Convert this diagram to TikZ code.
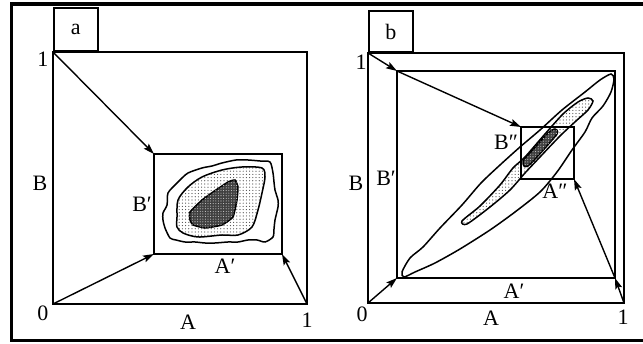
\documentclass[tikz,border=0pt]{standalone}
\usepackage{fontspec}
\setmainfont{Liberation Serif}
\usetikzlibrary{arrows.meta,patterns,patterns.meta}
\begin{document}
\begin{tikzpicture}[x=1pt,y=-1pt,
  ln/.style={line width=1.5pt,line join=miter},
  arr/.style={line width=1.4pt,-{Stealth[length=11pt,width=7pt,inset=2pt]}},
  lbl/.style={font=\fontsize{22}{24}\selectfont,inner sep=0pt},
  cont/.style={line width=1.5pt},
  dotfill/.style={pattern={Dots[distance=3.2pt,radius=0.6pt]},pattern color=black!70},
  darkfill/.style={fill=black!75},
  darkdots/.style={pattern={Dots[distance=2.6pt,radius=0.55pt]},pattern color=white!80!black}]
\useasboundingbox (0,0) rectangle (643,344);
\clip (0,0) rectangle (643,344);
\fill[white] (0,0) rectangle (643,344);
% outer frame
\draw[line width=3.8pt] (660,4) -- (11.5,4) -- (11.5,340.5) -- (660,340.5);

% ---------- panel a ----------
\coordinate (aBL) at (53,304);
\coordinate (aTL) at (53,52);
\coordinate (aBR) at (307,304);
\coordinate (aTR) at (307,52);
\coordinate (apBL) at (154,254);
\coordinate (apTL) at (154,154);
\coordinate (apBR) at (282,254);
\coordinate (apTR) at (282,154);
\draw[ln] (aBL) rectangle (aTR);
\draw[ln] (apBL) rectangle (apTR);
\node[draw,ln,minimum width=44pt,minimum height=43pt,inner sep=0pt,anchor=south west,lbl] (labA) at (53,52) {a};
% contours
\draw[cont] plot[smooth cycle,tension=0.45] coordinates {(167,205) (168,193) (176,184) (180,180) (188,173) (202,168) (212,166) (222,163) (236,160) (248,160) (260,161) (270,162) (273,173) (274,182) (275,190) (278,200) (278,207) (275,220) (274,229) (273,237) (265,242) (257,240) (248,240) (238,242) (228,242) (215,243) (205,243) (195,242) (185,242) (176,240) (170,238) (165,228) (163,220) (163,213)};
\draw[cont,dotfill] plot[smooth cycle,tension=0.5] coordinates {(177,217) (178,200) (188,187) (202,177) (222,170) (242,167) (262,168) (265,177) (262,193) (258,210) (252,227) (238,235) (222,235) (198,237) (183,233) (177,227)};
\draw[cont,darkfill] plot[smooth cycle,tension=0.25] coordinates {(190,212) (202,200) (213,192) (228,182) (235,180) (238,187) (237,200) (233,217) (222,225) (205,228) (193,225) (190,220)};
\fill[darkdots] plot[smooth cycle,tension=0.25] coordinates {(190,212) (202,200) (213,192) (228,182) (235,180) (238,187) (237,200) (233,217) (222,225) (205,228) (193,225) (190,220)};
% arrows
\draw[arr] (aTL) -- (apTL);
\draw[arr] (aBL) -- (apBL);
\draw[arr] (aBR) -- (apBR);
% labels
\node[lbl] (a1t) at (43,59) {1};
\node[lbl] (aB) at (40,183) {B};
\node[lbl] (aBp) at (142,204) {B′};
\node[lbl] (a0) at (43,313) {0};
\node[lbl] (aA) at (188,322) {A};
\node[lbl] (a1r) at (307,320) {1};
\node[lbl] (aAp) at (225,266) {A′};

% ---------- panel b ----------
\coordinate (bBL) at (368,303);
\coordinate (bTL) at (368,53);
\coordinate (bBR) at (624,303);
\coordinate (bTR) at (624,53);
\coordinate (bpBL) at (397,278);
\coordinate (bpTL) at (397,71);
\coordinate (bpBR) at (615,278);
\coordinate (bpTR) at (615,71);
\coordinate (bqBL) at (521,179);
\coordinate (bqTL) at (521,127);
\coordinate (bqBR) at (574,179);
\coordinate (bqTR) at (574,127);
\draw[ln] (bBL) rectangle (bTR);
\draw[ln] (bpBL) rectangle (bpTR);
\node[draw,ln,minimum width=44pt,minimum height=41pt,inner sep=0pt,anchor=south west,lbl] (labB) at (368,53) {b};
% contours
\draw[cont] plot[smooth cycle,tension=0.45] coordinates {(402,272) (410,258) (423,247) (440,228) (462,205) (481,183) (500,165) (520,147) (540,130) (562,110) (585,92) (600,80) (611,74) (614,79) (611,92) (603,106) (592,118) (585,132) (572,150) (557,172) (540,192) (515,212) (490,230) (460,249) (435,263) (415,272) (404,277)};
\draw[cont,dotfill] plot[smooth cycle,tension=0.45] coordinates {(462,221) (480,206) (500,185) (513,168) (525,157) (545,134) (563,114) (578,102) (588,98) (593,101) (588,110) (576,121) (560,136) (540,157) (525,173) (510,190) (490,207) (467,224)};
\draw[cont,darkfill] plot[smooth cycle,tension=0.4] coordinates {(523,161) (530,153) (548,133) (555,129) (557,134) (537,157) (528,166) (524,166)};
\fill[darkdots] plot[smooth cycle,tension=0.4] coordinates {(523,161) (530,153) (548,133) (555,129) (557,134) (537,157) (528,166) (524,166)};
\draw[ln] (bqBL) rectangle (bqTR);
% arrows
\draw[arr] (bTL) -- (bpTL);
\draw[arr] (bpTL) -- (bqTL);
\draw[arr] (bBL) -- (bpBL);
\draw[arr] (bBR) -- (bpBR);
\draw[arr] (bpBR) -- (bqBR);
% labels
\node[lbl] (b1t) at (361,62) {1};
\node[lbl] (bB) at (356,183) {B};
\node[lbl] (bBp) at (386,178) {B′};
\node[lbl] (bBpp) at (506,142) {B″};
\node[lbl] (bApp) at (555,191) {A″};
\node[lbl] (bAp) at (514,291) {A′};
\node[lbl] (b0) at (362,314) {0};
\node[lbl] (bA) at (491,318) {A};
\node[lbl] (b1r) at (623,317) {1};
\end{tikzpicture}
\end{document}
